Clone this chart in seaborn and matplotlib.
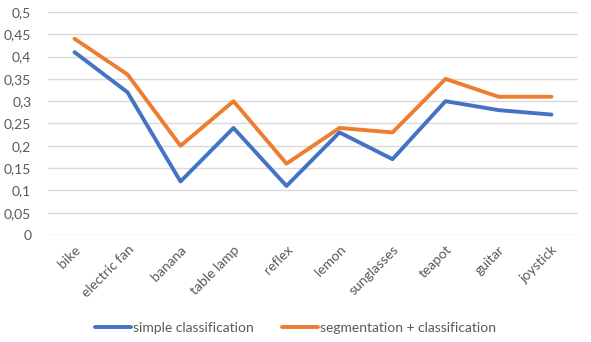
import pandas as pd
import numpy as np
import matplotlib.pyplot as plt
import seaborn as sns
from matplotlib.ticker import FuncFormatter, MultipleLocator

categories = ['bike', 'electric fan', 'banana', 'table lamp', 'reflex',
              'lemon', 'sunglasses', 'teapot', 'guitar', 'joystick']
simple = [0.41, 0.32, 0.12, 0.24, 0.11, 0.23, 0.17, 0.30, 0.28, 0.27]
segmentation = [0.44, 0.36, 0.20, 0.30, 0.16, 0.24, 0.23, 0.35, 0.31, 0.31]
series_names = ['simple classification', 'segmentation + classification']

df = pd.DataFrame({
    'object': categories * 2,
    'score': simple + segmentation,
    'method': [series_names[0]] * len(categories) + [series_names[1]] * len(categories),
})
df['object'] = pd.Categorical(df['object'], categories=categories, ordered=True)

sns.set_style('white')
plt.rcParams['font.family'] = ['Lato', 'DejaVu Sans']
grey = '#595959'
colors = ['#4472C4', '#ED7D31']

fig = plt.figure(figsize=(5.91, 3.42), dpi=100)
ax = fig.add_axes([48 / 591, 1 - 235 / 342, 530 / 591, 223 / 342])

sns.lineplot(data=df, x='object', y='score', hue='method', sort=False,
             palette=colors, linewidth=2.8, ax=ax, legend=False,
             solid_capstyle='round', solid_joinstyle='round')

ax.set_xlim(-0.5, len(categories) - 0.5)
ax.set_ylim(0, 0.5)
ax.yaxis.set_major_locator(MultipleLocator(0.05))
ax.yaxis.set_major_formatter(FuncFormatter(lambda v, p: ('%g' % round(v, 2)).replace('.', ',')))
ax.grid(axis='y', color='#D9D9D9', linewidth=1)
ax.set_axisbelow(True)
for s in ax.spines.values():
    s.set_visible(False)
ax.tick_params(axis='both', length=0, colors=grey, labelsize=10)
ax.tick_params(axis='y', pad=12)
ax.tick_params(axis='x', pad=6)
ax.set_xticks(range(len(categories)))
ax.set_xticklabels(categories, rotation=45, ha='right', rotation_mode='anchor')
ax.set_xlabel('')
ax.set_ylabel('')

handles = [plt.Line2D([], [], color=c, lw=2.8, solid_capstyle='round') for c in colors]
fig.legend(handles, series_names, loc='center', bbox_to_anchor=(0.5, 1 - 328 / 342),
           ncol=2, frameon=False, fontsize=10, labelcolor=grey,
           handlelength=2.6, handletextpad=0.15, columnspacing=2.0)

fig.savefig('out.png', dpi=100)
